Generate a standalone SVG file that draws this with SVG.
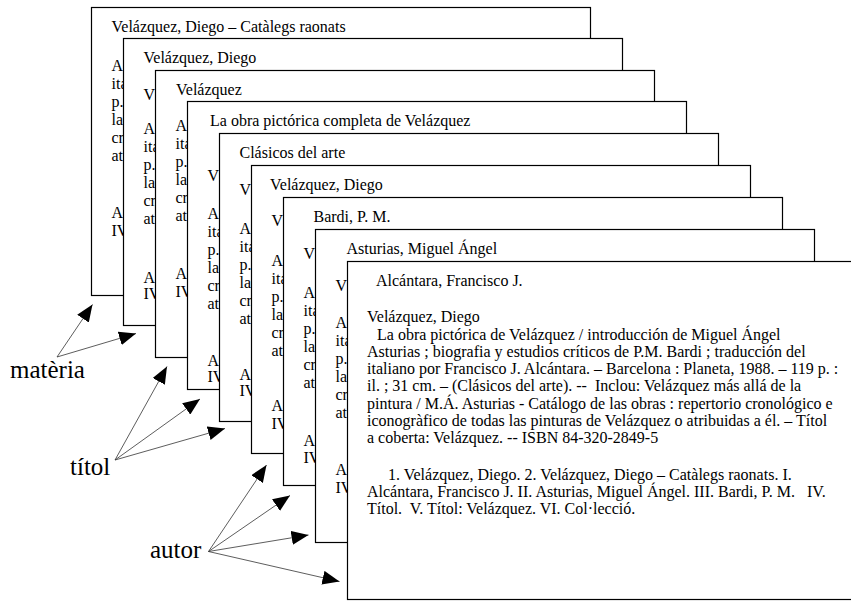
<svg xmlns="http://www.w3.org/2000/svg" width="851" height="601" viewBox="0 0 851 601">
<defs>
<style>
.card{fill:#fff;stroke:#000;stroke-width:1.2}
.t{font-family:"Liberation Serif","Times New Roman",serif;font-size:16px;fill:#000;white-space:pre}
.lbl{font-family:"Liberation Serif","Times New Roman",serif;font-size:25px;fill:#000}
.arr{stroke:#333;stroke-width:0.8;fill:none;marker-end:url(#ah)}
</style>
<marker id="ah" markerUnits="userSpaceOnUse" markerWidth="18" markerHeight="14" refX="17" refY="7" orient="auto">
<path d="M0,0 L17,7 L0,14 Z" fill="#000"/>
</marker>
</defs>
<rect width="851" height="601" fill="#fff"/>

<g id="card1">
<rect class="card" x="91.5" y="7.5" width="499" height="288"/>
<text class="t" x="111.5" y="31.5">Velázquez, Diego – Catàlegs raonats</text>
<text class="t" x="111.5" y="70.5">A</text>
<text class="t" x="111.5" y="88.5">ita</text>
<text class="t" x="111.5" y="106.5">p.</text>
<text class="t" x="111.5" y="124.5">la</text>
<text class="t" x="111.5" y="142.5">cr</text>
<text class="t" x="111.5" y="160.5">at</text>
<text class="t" x="111.5" y="217.5">A</text>
<text class="t" x="111.5" y="235.5">IV</text>
</g>

<g id="card2">
<rect class="card" x="123.5" y="38.5" width="499" height="287"/>
<text class="t" x="143.5" y="62.5">Velázquez, Diego</text>
<text class="t" x="143.5" y="100">V</text>
<text class="t" x="143.5" y="133.5">A</text>
<text class="t" x="143.5" y="151.5">ita</text>
<text class="t" x="143.5" y="169.5">p.</text>
<text class="t" x="143.5" y="187.5">la</text>
<text class="t" x="143.5" y="205.5">cr</text>
<text class="t" x="143.5" y="223.5">at</text>
<text class="t" x="143.5" y="282.5">A</text>
<text class="t" x="143.5" y="298.5">IV</text>
</g>

<g id="card3">
<rect class="card" x="155.5" y="70.5" width="499" height="287"/>
<text class="t" x="176" y="94.5">Velázquez</text>
<text class="t" x="175.5" y="130.5">A</text>
<text class="t" x="175.5" y="148.5">ita</text>
<text class="t" x="175.5" y="166.5">p.</text>
<text class="t" x="175.5" y="184.5">la</text>
<text class="t" x="175.5" y="202.5">cr</text>
<text class="t" x="175.5" y="220.5">at</text>
<text class="t" x="175.5" y="278.5">A</text>
<text class="t" x="175.5" y="296.5">IV</text>
</g>

<g id="card4">
<rect class="card" x="187.5" y="101.5" width="499" height="288"/>
<text class="t" x="210" y="125.5">La obra pictórica completa de Velázquez</text>
<text class="t" x="207.5" y="180.5">V</text>
<text class="t" x="207.5" y="218.5">A</text>
<text class="t" x="207.5" y="236.5">ita</text>
<text class="t" x="207.5" y="254.5">p.</text>
<text class="t" x="207.5" y="272.5">la</text>
<text class="t" x="207.5" y="290.5">cr</text>
<text class="t" x="207.5" y="308.5">at</text>
<text class="t" x="207.5" y="365.5">A</text>
<text class="t" x="207.5" y="382">IV</text>
</g>

<g id="card5">
<rect class="card" x="219.5" y="133.5" width="499" height="288"/>
<text class="t" x="239.5" y="157.5">Clásicos del arte</text>
<text class="t" x="239.5" y="194.5">V</text>
<text class="t" x="239.5" y="233.5">A</text>
<text class="t" x="239.5" y="251.5">ita</text>
<text class="t" x="239.5" y="269.5">p.</text>
<text class="t" x="239.5" y="287.5">la</text>
<text class="t" x="239.5" y="305.5">cr</text>
<text class="t" x="239.5" y="323.5">at</text>
<text class="t" x="239.5" y="379.5">A</text>
<text class="t" x="239.5" y="395.5">IV</text>
</g>

<g id="card6">
<rect class="card" x="251.5" y="165.5" width="499" height="288"/>
<text class="t" x="270" y="189.5">Velázquez, Diego</text>
<text class="t" x="271.5" y="225.5">V</text>
<text class="t" x="271.5" y="265.5">A</text>
<text class="t" x="271.5" y="283.5">ita</text>
<text class="t" x="271.5" y="301.5">p.</text>
<text class="t" x="271.5" y="319.5">la</text>
<text class="t" x="271.5" y="337.5">cr</text>
<text class="t" x="271.5" y="355.5">at</text>
<text class="t" x="271.5" y="410.5">A</text>
<text class="t" x="271.5" y="428.5">IV</text>
</g>

<g id="card7">
<rect class="card" x="283.5" y="197.5" width="499" height="288"/>
<text class="t" x="313.5" y="221.5">Bardi, P. M.</text>
<text class="t" x="303.5" y="258.5">V</text>
<text class="t" x="303.5" y="297.5">A</text>
<text class="t" x="303.5" y="315.5">ita</text>
<text class="t" x="303.5" y="333.5">p.</text>
<text class="t" x="303.5" y="351.5">la</text>
<text class="t" x="303.5" y="369.5">cr</text>
<text class="t" x="303.5" y="387.5">at</text>
<text class="t" x="303.5" y="445.5">A</text>
<text class="t" x="303.5" y="462.5">IV</text>
</g>

<g id="card8">
<rect class="card" x="315.5" y="229.5" width="499" height="313"/>
<text class="t" x="346.5" y="253.5">Asturias, Miguel Ángel</text>
<text class="t" x="335.5" y="290.5">V</text>
<text class="t" x="335.5" y="327.5">A</text>
<text class="t" x="335.5" y="345.5">ita</text>
<text class="t" x="335.5" y="363.5">p.</text>
<text class="t" x="335.5" y="381.5">la</text>
<text class="t" x="335.5" y="399.5">cr</text>
<text class="t" x="335.5" y="417.5">at</text>
<text class="t" x="335.5" y="474.5">A</text>
<text class="t" x="335.5" y="493">IV</text>
</g>

<g id="card9">
<rect class="card" x="347.5" y="261.5" width="520" height="338"/>
<text class="t" x="376" y="286">Alcántara, Francisco J.</text>
<text class="t" x="367" y="322">Velázquez, Diego</text>
<text class="t" x="377" y="339.5">La obra pictórica de Velázquez / introducción de Miguel Ángel</text>
<text class="t" x="367" y="356.5">Asturias ; biografia y estudios críticos de P.M. Bardi ; traducción del</text>
<text class="t" x="367" y="374">italiano por Francisco J. Alcántara. – Barcelona : Planeta, 1988. – 119 p. :</text>
<text class="t" x="367" y="391">il. ; 31 cm. – (Clásicos del arte). --  Inclou: Velázquez más allá de la</text>
<text class="t" x="367" y="408.5">pintura / M.Á. Asturias - Catálogo de las obras : repertorio cronológico e</text>
<text class="t" x="367" y="425.5">iconogràfico de todas las pinturas de Velázquez o atribuidas a él. – Títol</text>
<text class="t" x="367" y="443">a coberta: Velázquez. -- ISBN 84-320-2849-5</text>
<text class="t" x="388" y="479.5">1. Velázquez, Diego. 2. Velázquez, Diego – Catàlegs raonats. I.</text>
<text class="t" x="367" y="496.5">Alcántara, Francisco J. II. Asturias, Miguel Ángel. III. Bardi, P. M.   IV.</text>
<text class="t" x="367" y="513.5">Títol.  V. Títol: Velázquez. VI. Col·lecció.</text>
</g>

<g id="label-materia"><text class="lbl" x="10" y="378">matèria</text></g>
<g id="label-titol"><text class="lbl" x="70" y="475">títol</text></g>
<g id="label-autor"><text class="lbl" x="150" y="558">autor</text></g>

<g id="connectors">
<line class="arr" x1="57" y1="357" x2="92.5" y2="304.5"/>
<line class="arr" x1="57" y1="357" x2="136" y2="333.5"/>
<line class="arr" x1="115" y1="460" x2="167" y2="366.5"/>
<line class="arr" x1="115" y1="460" x2="200" y2="399"/>
<line class="arr" x1="115" y1="460" x2="225" y2="428.5"/>
<line class="arr" x1="208.5" y1="551.5" x2="266.5" y2="465"/>
<line class="arr" x1="208.5" y1="551.5" x2="290" y2="495.5"/>
<line class="arr" x1="208.5" y1="551.5" x2="308.5" y2="535"/>
<line class="arr" x1="208.5" y1="551.5" x2="339.5" y2="581.5"/>
</g>
</svg>
